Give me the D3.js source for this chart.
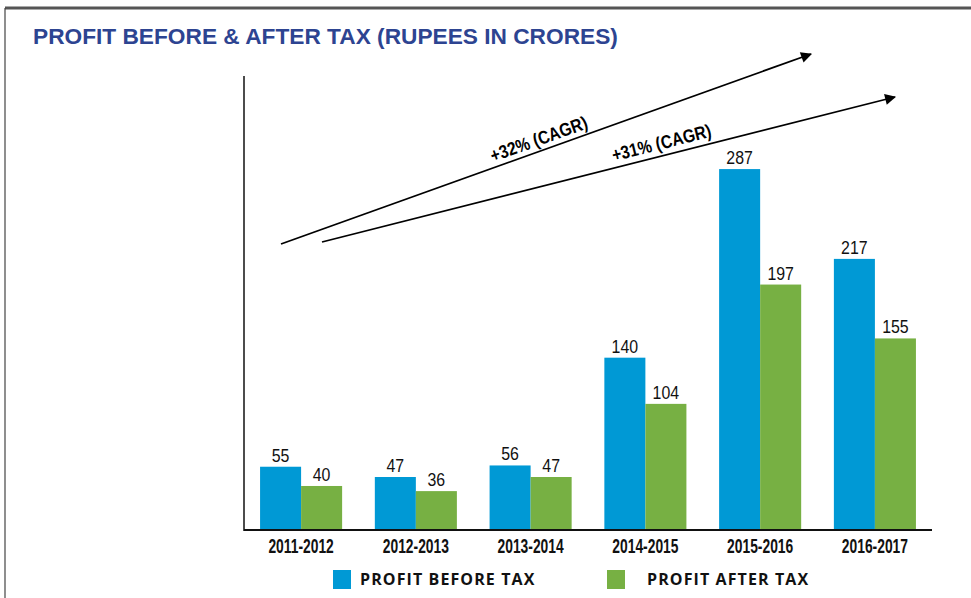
<!DOCTYPE html>
<html>
<head>
<meta charset="utf-8">
<script src="https://cdn.jsdelivr.net/npm/d3@7"></script>
<style>
  html, body { margin: 0; padding: 0; background: #fff; }
</style>
</head>
<body>
<svg id="canvas" width="971" height="598"></svg>
<script>
var years = ["2011-2012", "2012-2013", "2013-2014", "2014-2015", "2015-2016", "2016-2017"];
var profitBeforeTax = [55, 47, 56, 140, 287, 217];
var profitAfterTax = [40, 36, 47, 104, 197, 155];
var seriesNames = ["PROFIT BEFORE TAX", "PROFIT AFTER TAX"];
var cagrLabels = ["+32% (CAGR)", "+31% (CAGR)"];

var colors = ["#0099d5", "#77b043"];
var sans = "'Liberation Sans', Arial, sans-serif";

var svg = d3.select("#canvas"),
  width = +svg.attr("width"),
  height = +svg.attr("height");

// frame
svg.append("line").attr("x1", 5).attr("x2", width).attr("y1", 8).attr("y2", 8)
  .attr("stroke", "#555").attr("stroke-width", 3);
svg.append("line").attr("x1", 5).attr("x2", 5).attr("y1", 8).attr("y2", height)
  .attr("stroke", "#444").attr("stroke-width", 1.2);

svg.append("text")
  .attr("x", 33).attr("y", 44)
  .attr("font-family", sans)
  .attr("font-weight", "bold")
  .attr("font-size", 22.7)
  .attr("fill", "#2d4491")
  .text("PROFIT BEFORE & AFTER TAX (RUPEES IN CRORES)");

var axisLeft = 244, axisBottom = 530, axisTop = 76, axisRight = 932;

var x = d3.scaleBand()
  .domain(years)
  .range([axisLeft, axisRight])
  .paddingInner(0.285)
  .paddingOuter(0.14);

var xs = d3.scaleBand()
  .domain([0, 1])
  .range([0, x.bandwidth()]);

// zero of the value scale sits slightly below the drawn axis
var y = d3.scaleLinear()
  .domain([0, 300])
  .range([537.3, 152.4]);

var data = years.map(function(yr, i) {
  return { year: yr, values: [profitBeforeTax[i], profitAfterTax[i]] };
});

var group = svg.selectAll(".grp")
  .data(data)
  .enter().append("g")
  .attr("class", "grp")
  .attr("transform", function(d) { return "translate(" + x(d.year) + ",0)"; });

group.selectAll("rect")
  .data(function(d) { return d.values; })
  .enter().append("rect")
  .attr("x", function(d, i) { return xs(i); })
  .attr("y", function(d) { return y(d); })
  .attr("width", xs.bandwidth())
  .attr("height", function(d) { return axisBottom - y(d); })
  .attr("fill", function(d, i) { return colors[i]; });

// narrow-looking numbers: squeeze horizontally
group.selectAll(".val")
  .data(function(d) { return d.values; })
  .enter().append("text")
  .attr("class", "val")
  .attr("transform", function(d, i) {
    return "translate(" + (xs(i) + xs.bandwidth() / 2) + "," + (y(d) - 5) + ") scale(0.86,1)";
  })
  .attr("text-anchor", "middle")
  .attr("font-family", sans)
  .attr("font-size", 18.5)
  .attr("fill", "#111")
  .text(function(d) { return d; });

// axes
var xAxis = svg.append("g")
  .attr("transform", "translate(0," + axisBottom + ")")
  .call(d3.axisBottom(x).tickSize(0).tickPadding(0));
xAxis.select(".domain").remove();
xAxis.selectAll("text")
  .attr("y", 23)
  .attr("dy", null)
  .attr("transform", "scale(0.71,1)")
  .attr("font-family", sans)
  .attr("font-weight", "bold")
  .attr("font-size", 19.5)
  .attr("fill", "#111");

svg.append("line").attr("x1", axisLeft).attr("x2", axisRight)
  .attr("y1", axisBottom).attr("y2", axisBottom)
  .attr("stroke", "#111").attr("stroke-width", 2);
svg.append("line").attr("x1", axisLeft).attr("x2", axisLeft)
  .attr("y1", axisTop).attr("y2", axisBottom + 1)
  .attr("stroke", "#111").attr("stroke-width", 1.5);

// CAGR arrows
svg.append("defs").append("marker")
  .attr("id", "head")
  .attr("viewBox", "0 0 10 10")
  .attr("refX", 9).attr("refY", 5)
  .attr("markerWidth", 18).attr("markerHeight", 11)
  .attr("markerUnits", "userSpaceOnUse")
  .attr("orient", "auto")
  .append("path").attr("d", "M0,0L10,5L0,10Z").attr("fill", "#000");

var arrows = [
  { x1: 281, y1: 244, x2: 811, y2: 54, tx: 541, ty: 145 },
  { x1: 322, y1: 242, x2: 895, y2: 97, tx: 663, ty: 149 }
];

arrows.forEach(function(a, i) {
  svg.append("line")
    .attr("x1", a.x1).attr("y1", a.y1).attr("x2", a.x2).attr("y2", a.y2)
    .attr("stroke", "#000").attr("stroke-width", 1.8)
    .attr("marker-end", "url(#head)");
  var ang = Math.atan2(a.y2 - a.y1, a.x2 - a.x1) * 180 / Math.PI;
  svg.append("text")
    .attr("transform", "translate(" + a.tx + "," + a.ty + ") rotate(" + ang + ") scale(0.85,1)")
    .attr("text-anchor", "middle")
    .attr("font-family", sans)
    .attr("font-weight", "bold")
    .attr("font-size", 18.5)
    .attr("fill", "#000")
    .text(cagrLabels[i]);
});

// legend
var legendX = [333, 607];
var legend = svg.selectAll(".leg")
  .data(seriesNames)
  .enter().append("g")
  .attr("class", "leg")
  .attr("transform", function(d, i) { return "translate(" + legendX[i] + ",570)"; });

legend.append("rect")
  .attr("width", 18).attr("height", 19)
  .attr("fill", function(d, i) { return colors[i]; });

legend.append("text")
  .attr("x", function(d, i) { return i === 0 ? 27 : 40; })
  .attr("y", 15)
  .attr("font-family", "'Open Sans', sans-serif")
  .attr("font-weight", "bold")
  .attr("font-size", 16)
  .attr("letter-spacing", 1.1)
  .attr("fill", "#111")
  .text(function(d) { return d; });
</script>
</body>
</html>
